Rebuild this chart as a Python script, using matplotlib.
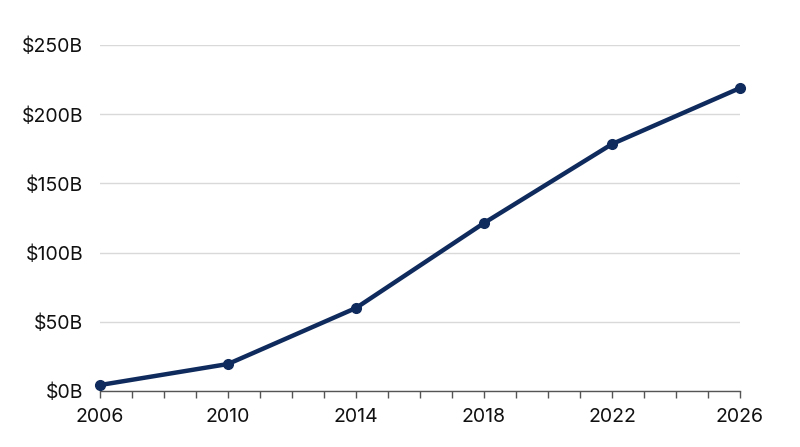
import matplotlib as mpl
mpl.use('agg')
import matplotlib.pyplot as plt
from matplotlib.ticker import FuncFormatter, MultipleLocator, FixedLocator

years = [2006, 2010, 2014, 2018, 2022, 2026]
values = [4.3, 19.5, 60, 121.4, 178.5, 219]   # $B

plt.rcParams['font.family'] = ['Inter', 'DejaVu Sans']

fig = plt.figure(figsize=(8, 4.47), dpi=100)
ax = fig.add_axes([0.125, 0.1253, 0.8, 0.7737])

ax.plot(years, values, color='#0f2a5c', linewidth=3.2, marker='o', markersize=7,
        solid_capstyle='round', zorder=3, clip_on=False)

ax.set_xlim(2006, 2026)
ax.set_ylim(0, 250)
ax.xaxis.set_major_locator(FixedLocator(years))
ax.xaxis.set_minor_locator(MultipleLocator(1))
ax.yaxis.set_major_locator(MultipleLocator(50))
ax.yaxis.set_major_formatter(FuncFormatter(lambda v, p: f"${v:.0f}B"))

ax.grid(True, axis='y', color='#d9d9d9', linewidth=1)
ax.set_axisbelow(True)
for s in ['top', 'right', 'left']:
    ax.spines[s].set_visible(False)
ax.spines['bottom'].set_color('#555555')
ax.spines['bottom'].set_linewidth(1)

ax.tick_params(axis='x', which='both', length=5, width=1, color='#555555',
               labelsize=14, pad=7, labelcolor='#111111')
ax.tick_params(axis='y', length=0, labelsize=14, pad=12, labelcolor='#111111')

fig.savefig("out.png", dpi=100)
